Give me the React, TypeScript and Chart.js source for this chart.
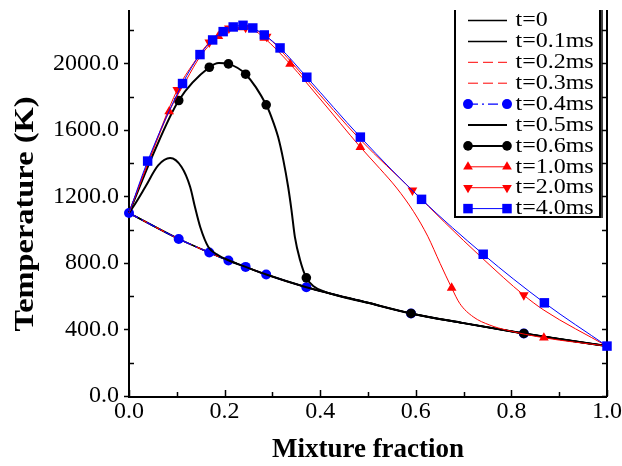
import React, { useEffect, useRef } from 'react';
import { Chart, registerables } from 'chart.js';

Chart.register(...registerables);

// ---------- data ----------
const xTicks = [0, 0.2, 0.4, 0.6, 0.8, 1.0];
const yTicks = [0, 400, 800, 1200, 1600, 2000];
const xMin = 0, xMax = 1.0, yMin = 0, yMax = 2320;
const xMinorStep = 0.1, yMinorStep = 200;

const seriesLabels = ['t=0', 't=0.1ms', 't=0.2ms', 't=0.3ms', 't=0.4ms', 't=0.5ms', 't=0.6ms', 't=1.0ms', 't=2.0ms', 't=4.0ms'];

// pure mixing line (t = 0 ... 0.4 ms)
const zMix = [0, 0.104, 0.168, 0.208, 0.244, 0.287, 0.371, 0.5, 0.59, 0.7, 0.826, 0.9, 1.0];
const tMix = [1100, 944, 862, 814, 776, 730, 654, 560, 496, 438, 376, 342, 300];
const mark04 = [0, 0.104, 0.168, 0.208, 0.244, 0.287, 0.371, 0.59, 0.826];

// t = 0.5 ms
const z05 = [0, 0.013, 0.034, 0.061, 0.086, 0.110, 0.128, 0.138, 0.149, 0.166, 0.187, 0.208, 0.244, 0.287, 0.371, 0.5, 0.59, 0.7, 0.826, 0.9, 1.0];
const t05 = [1100, 1156, 1256, 1386, 1430, 1376, 1256, 1136, 1016, 896, 846, 816, 776, 730, 654, 560, 496, 438, 376, 342, 300];

// t = 0.6 ms
const z06 = [0, 0.05, 0.104, 0.168, 0.188, 0.208, 0.244, 0.287, 0.298, 0.312, 0.323, 0.333, 0.340, 0.347, 0.358, 0.371, 0.386, 0.41, 0.5, 0.59, 0.7, 0.826, 0.9, 1.0];
const t06 = [1100, 1450, 1776, 1976, 2002, 1996, 1934, 1750, 1676, 1556, 1416, 1256, 1116, 956, 816, 710, 660, 626, 560, 496, 438, 376, 342, 300];
const mark06 = [0.104, 0.168, 0.208, 0.244, 0.287, 0.371, 0.59, 0.826];

// t = 1.0 ms
const z10 = [0, 0.04, 0.084, 0.12, 0.15, 0.187, 0.21, 0.235, 0.26, 0.283, 0.337, 0.4, 0.484, 0.525, 0.56, 0.595, 0.625, 0.651, 0.675, 0.692, 0.72, 0.755, 0.79, 0.868, 1.0];
const t10 = [1100, 1400, 1710, 1900, 2045, 2162, 2200, 2215, 2200, 2152, 1996, 1785, 1496, 1366, 1250, 1110, 960, 796, 650, 556, 476, 426, 396, 350, 300];
const mark10 = [0.084, 0.187, 0.235, 0.283, 0.337, 0.484, 0.675, 0.868];

// t = 2.0 ms
const z20 = [0, 0.04, 0.101, 0.135, 0.168, 0.209, 0.244, 0.288, 0.337, 0.372, 0.484, 0.593, 0.66, 0.74, 0.826, 0.868, 1.0];
const t20 = [1100, 1405, 1840, 2000, 2126, 2210, 2214, 2160, 2015, 1900, 1540, 1236, 1045, 826, 606, 516, 300];
const mark20 = [0.101, 0.168, 0.209, 0.244, 0.288, 0.593, 0.826];

// t = 4.0 ms
const z40 = [0, 0.039, 0.112, 0.1485, 0.175, 0.197, 0.218, 0.2385, 0.259, 0.283, 0.316, 0.372, 0.484, 0.612, 0.741, 0.869, 1.0];
const t40 = [1100, 1412, 1878, 2052, 2140, 2190, 2218, 2228, 2212, 2170, 2092, 1916, 1556, 1182, 852, 560, 300];
const mark40 = [0.039, 0.112, 0.1485, 0.175, 0.197, 0.218, 0.2385, 0.259, 0.283, 0.316, 0.372, 0.484, 0.612, 0.741, 0.869, 1.0];

// ---------- styles ----------
const FONT = "'Liberation Serif', 'Times New Roman', serif";
const RED = '#ff0000';
const BLUE = '#0000ff';
const BLACK = '#000000';

type Spec = {
  xs: number[]; ys: number[]; marks: number[];
  color: string; width: number; dash: number[];
  style: 'circle' | 'triangle' | 'rect' | null; radius: number; rotation: number;
};

const specs: Spec[] = [
  { xs: zMix, ys: tMix, marks: [], color: BLACK, width: 1.5, dash: [], style: null, radius: 0, rotation: 0 },
  { xs: zMix, ys: tMix, marks: [], color: BLACK, width: 1.5, dash: [], style: null, radius: 0, rotation: 0 },
  { xs: zMix, ys: tMix, marks: [], color: RED, width: 1, dash: [10, 5], style: null, radius: 0, rotation: 0 },
  { xs: zMix, ys: tMix, marks: [], color: RED, width: 1, dash: [10, 5], style: null, radius: 0, rotation: 0 },
  { xs: zMix, ys: tMix, marks: mark04, color: BLUE, width: 1.2, dash: [10, 4, 2, 4], style: 'circle', radius: 5, rotation: 0 },
  { xs: z05, ys: t05, marks: [], color: BLACK, width: 2, dash: [], style: null, radius: 0, rotation: 0 },
  { xs: z06, ys: t06, marks: mark06, color: BLACK, width: 2, dash: [], style: 'circle', radius: 4.8, rotation: 0 },
  { xs: z10, ys: t10, marks: mark10, color: RED, width: 1, dash: [], style: 'triangle', radius: 5.6, rotation: 0 },
  { xs: z20, ys: t20, marks: mark20, color: RED, width: 1, dash: [], style: 'triangle', radius: 5.6, rotation: 180 },
  { xs: z40, ys: t40, marks: mark40, color: BLUE, width: 1, dash: [], style: 'rect', radius: 6.7, rotation: 0 },
];

function drawMarker(ctx: CanvasRenderingContext2D, style: string, x: number, y: number, r: number, rot: number) {
  ctx.beginPath();
  if (style === 'circle') {
    ctx.arc(x, y, r, 0, Math.PI * 2);
  } else if (style === 'rect') {
    const s = r * Math.SQRT1_2;
    ctx.rect(x - s, y - s, 2 * s, 2 * s);
  } else if (style === 'triangle') {
    let a = (rot * Math.PI) / 180;
    for (let k = 0; k < 3; k++) {
      const px = x + Math.sin(a) * r;
      const py = y - Math.cos(a) * r;
      if (k === 0) ctx.moveTo(px, py); else ctx.lineTo(px, py);
      a += (2 * Math.PI) / 3;
    }
  }
  ctx.closePath();
  ctx.fill();
}

const framePlugin = {
  id: 'frame',
  beforeDatasetsDraw(chart: any) {
    const { ctx, chartArea, scales } = chart;
    const { left, right, top, bottom } = chartArea;
    const xs = scales.x, ys = scales.y;
    ctx.save();
    ctx.strokeStyle = BLACK;
    ctx.lineWidth = 2;
    ctx.beginPath();
    ctx.moveTo(left, top); ctx.lineTo(left, bottom + 1); ctx.lineTo(right, bottom + 1);
    ctx.moveTo(right, top); ctx.lineTo(right, bottom + 1);
    ctx.stroke();
    ctx.lineWidth = 1.5;
    ctx.beginPath();
    for (let v = yMin; v <= yMax + 1e-6; v += yMinorStep) {
      const py = Math.round(ys.getPixelForValue(v)) + 0.5;
      const major = yTicks.includes(v);
      if (major) { ctx.moveTo(left - 5, py); ctx.lineTo(left, py); }
      else { ctx.moveTo(left, py); ctx.lineTo(left + 5, py); }
      ctx.moveTo(right, py); ctx.lineTo(right - 5, py);
    }
    for (let i = 0; i <= Math.round((xMax - xMin) / xMinorStep); i++) {
      const v = xMin + i * xMinorStep;
      const px = Math.round(xs.getPixelForValue(v)) + 0.5;
      const len = i % 2 === 0 ? 6 : 4;
      ctx.moveTo(px, bottom); ctx.lineTo(px, bottom - len);
    }
    ctx.stroke();
    ctx.restore();
  },
  afterDraw(chart: any) {
    const ctx: CanvasRenderingContext2D = chart.ctx;
    const { top } = chart.chartArea;
    // y axis title
    ctx.save();
    ctx.fillStyle = BLACK;
    ctx.translate(26, 214);
    ctx.rotate(-Math.PI / 2);
    ctx.scale(1.2, 1);
    ctx.font = `bold 27px ${FONT}`;
    ctx.textAlign = 'center';
    ctx.textBaseline = 'middle';
    ctx.fillText('Temperature (K)', 0, 0);
    ctx.restore();

    // legend box
    const bx0 = 455, bx1 = 600, by0 = top, by1 = 217;
    ctx.save();
    ctx.fillStyle = '#ffffff';
    ctx.fillRect(bx0, by0, bx1 - bx0, by1 - by0);
    ctx.strokeStyle = BLACK;
    ctx.lineWidth = 2;
    ctx.beginPath();
    ctx.moveTo(bx0, by0); ctx.lineTo(bx0, by1); ctx.lineTo(bx1, by1); ctx.lineTo(bx1, by0);
    ctx.stroke();
    ctx.lineWidth = 1.5;
    ctx.beginPath();
    ctx.moveTo(bx1 + 2, by0); ctx.lineTo(bx1 + 2, by1 + 1);
    ctx.stroke();

    specs.forEach((s, i) => {
      const y = 20.5 + i * 20.9;
      const x0 = 468, x1 = 507;
      ctx.save();
      ctx.strokeStyle = s.color;
      ctx.lineWidth = s.width;
      ctx.setLineDash(s.dash);
      ctx.beginPath();
      ctx.moveTo(x0 - (s.style ? 0 : 0), y); ctx.lineTo(x1, y);
      ctx.stroke();
      ctx.restore();
      if (s.style) {
        ctx.fillStyle = s.color;
        drawMarker(ctx, s.style, x0, y, s.radius, s.rotation);
        drawMarker(ctx, s.style, x1, y, s.radius, s.rotation);
      }
      ctx.save();
      ctx.fillStyle = BLACK;
      ctx.font = `20px ${FONT}`;
      ctx.textAlign = 'left';
      ctx.textBaseline = 'middle';
      ctx.translate(515.5, y + 0.5);
      ctx.scale(1.2, 1);
      ctx.fillText(seriesLabels[i], 0, 0);
      ctx.restore();
    });
    ctx.restore();
  },
};

export default function App() {
  const ref = useRef<HTMLCanvasElement>(null);

  useEffect(() => {
    const canvas = ref.current;
    if (!canvas) return;
    const n = specs.length;
    const datasets = specs.map((s, i) => ({
      label: seriesLabels[i],
      data: s.xs.map((x, k) => ({ x, y: s.ys[k] })),
      borderColor: s.color,
      backgroundColor: s.color,
      borderWidth: s.width,
      borderDash: s.dash,
      fill: false,
      cubicInterpolationMode: 'monotone' as const,
      pointStyle: s.style || 'circle',
      pointRotation: s.rotation,
      pointRadius: (c: any) => (s.style && c.raw && s.marks.includes(c.raw.x) ? s.radius : 0),
      pointHoverRadius: 0,
      pointBackgroundColor: s.color,
      pointBorderColor: s.color,
      pointBorderWidth: 0,
      clip: false as const,
      order: n - i,
    }));

    const chart = new Chart(canvas, {
      type: 'line',
      data: { datasets },
      options: {
        responsive: false,
        animation: false,
        events: [],
        layout: { padding: { left: 0, top: 10, right: 15, bottom: 0 } },
        plugins: { legend: { display: false }, tooltip: { enabled: false } },
        scales: {
          x: {
            type: 'linear',
            min: xMin,
            max: xMax,
            grid: { display: false, drawTicks: false },
            border: { display: false },
            afterBuildTicks: (sc: any) => { sc.ticks = xTicks.map((v) => ({ value: v })); },
            afterFit: (sc: any) => { sc.height = 70; sc.paddingLeft = 0; sc.paddingRight = 0; },
            ticks: {
              color: BLACK,
              padding: 1,
              maxRotation: 0,
              autoSkip: false,
              font: { family: FONT, size: 24 },
              callback: (v: any) => Number(v).toFixed(1),
            },
            title: {
              display: true,
              text: 'Mixture fraction',
              color: BLACK,
              font: { family: FONT, size: 27, weight: 'bold' },
              padding: { top: 0, bottom: 0 },
            },
          },
          y: {
            type: 'linear',
            min: yMin,
            max: yMax,
            grid: { display: false, drawTicks: false },
            border: { display: false },
            afterBuildTicks: (sc: any) => { sc.ticks = yTicks.map((v) => ({ value: v })); },
            afterFit: (sc: any) => { sc.width = 129; sc.paddingTop = 0; sc.paddingBottom = 0; },
            ticks: {
              color: BLACK,
              padding: 10,
              autoSkip: false,
              font: { family: FONT, size: 24 },
              callback: (v: any) => Number(v).toFixed(1),
            },
          },
        },
      },
      plugins: [framePlugin],
    } as any);

    return () => chart.destroy();
  }, []);

  return (
    <div style={{ position: 'absolute', left: 0, top: 0, width: 622, height: 466, background: '#ffffff' }}>
      <canvas ref={ref} width={622} height={466} style={{ display: 'block', width: 622, height: 466 }} />
    </div>
  );
}
